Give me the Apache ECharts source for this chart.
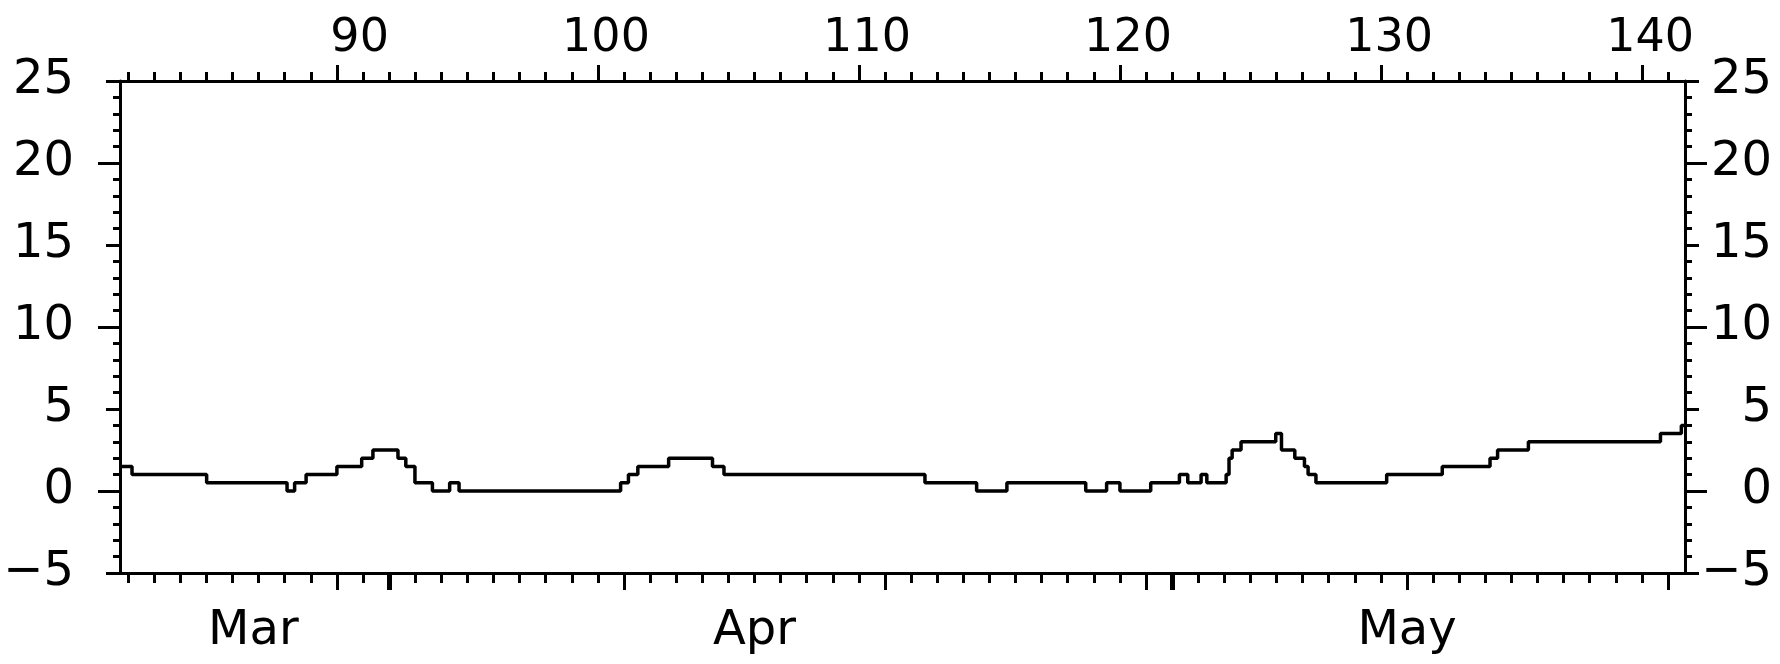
<!DOCTYPE html>
<html>
<head>
<meta charset="utf-8">
<title>Step chart</title>
<script src="https://cdn.jsdelivr.net/npm/echarts@6/dist/echarts.min.js"></script>
<style>
html, body { margin: 0; padding: 0; background: #fff; }
#chart { width: 1780px; height: 664px; }
</style>
</head>
<body>
<div id="chart"></div>
<script>
// day of year where each step starts, and the value held until the next step
var stepDays = [81.69, 82.15, 85.01, 88.09, 88.38, 88.82, 90.0, 90.95, 91.38, 92.34, 92.64, 92.99, 93.66, 94.32, 94.68,
  100.87, 101.17, 101.53, 102.71, 104.39, 104.83, 112.53, 114.51, 115.67, 118.69, 119.49, 120.0, 121.18,
  122.28, 122.6, 123.11, 123.33, 124.07, 124.18, 124.3, 124.64, 125.97, 126.19, 126.7, 127.07, 127.21, 127.51,
  130.22, 132.35, 134.18, 134.47, 135.65, 140.71, 141.51, 141.65];
var stepValues = [1.5, 1.0, 0.5, 0, 0.5, 1.0, 1.5, 2.0, 2.5, 2.0, 1.5, 0.5, 0, 0.5, 0,
  0.5, 1.0, 1.5, 2.0, 1.5, 1.0, 0.5, 0, 0.5, 0, 0.5, 0, 0.5,
  1.0, 0.5, 1.0, 0.5, 1.0, 2.0, 2.5, 3.0, 3.5, 2.5, 2.0, 1.5, 1.0, 0.5,
  1.0, 1.5, 2.0, 2.5, 3.0, 3.5, 4.0, 4.0];

// axis range (day of year, leap year) and tick lists
var dayMin = 81.69, dayMax = 141.65;
var tenDayTicks = [90, 100, 110, 120, 130, 140];
var dateLongTicks = [90, 101, 111, 121, 131, 141];   // Mar 30, Apr 10, 20, 30, May 10, 20
var monthStartTicks = [92, 122];                     // Apr 1, May 1
var monthNames = ['Mar', 'Apr', 'May'];
var monthLabelDays = [86.8, 106, 131];
var yTenTicks = [0, 10, 20];

var dayTicks = [];
for (var d = 82; d <= 141; d++) dayTicks.push(d);

var FONT = 'DejaVu Sans';
var INK = '#000';
var LW = 3;

var lineData = stepDays.map(function (x, i) { return [x, stepValues[i]]; });
var topLabelData = tenDayTicks.map(function (x) { return [x, 25]; });

function xAx(pos, extra) {
    var base = {
        type: 'value', position: pos, min: dayMin, max: dayMax,
        axisLine: { show: false, onZero: false },
        axisTick: { show: false },
        axisLabel: { show: false },
        splitLine: { show: false }
    };
    return Object.assign(base, extra);
}
function yAx(pos, extra) {
    var base = {
        type: 'value', position: pos, min: -5, max: 25,
        axisLine: { show: false, onZero: false },
        axisTick: { show: false },
        axisLabel: { show: false },
        splitLine: { show: false }
    };
    return Object.assign(base, extra);
}
function minusFmt(v) {
    return String(v).replace('-', '\u2212');
}

var myChart = echarts.init(document.getElementById('chart'));
var option = {
    animation: false,
    backgroundColor: '#fff',
    grid: { left: 120, right: 95, top: 81, bottom: 91, containLabel: false, outerBoundsMode: 'none' },
    xAxis: [
        // bottom: frame line, daily ticks, month names
        xAx('bottom', {
            axisLine: { show: true, onZero: false, lineStyle: { color: INK, width: LW } },
            axisTick: { show: true, customValues: dayTicks, length: 10, lineStyle: { color: INK, width: LW } },
            axisLabel: {
                show: true, customValues: monthLabelDays, margin: 35,
                color: INK, fontFamily: FONT, fontSize: 48,
                formatter: function (v) {
                    var i = monthLabelDays.indexOf(v);
                    return i >= 0 ? monthNames[i] : '';
                }
            }
        }),
        xAx('bottom', {
            axisTick: { show: true, customValues: dateLongTicks, length: 17, lineStyle: { color: INK, width: LW } }
        }),
        xAx('bottom', {
            axisTick: { show: true, customValues: monthStartTicks, length: 17, lineStyle: { color: INK, width: 5 } }
        }),
        // top: day of year
        xAx('top', {
            axisLine: { show: true, onZero: false, lineStyle: { color: INK, width: LW } },
            axisTick: { show: true, customValues: dayTicks, length: 9, lineStyle: { color: INK, width: LW } }
        }),
        xAx('top', {
            axisTick: { show: true, customValues: tenDayTicks, length: 16, lineStyle: { color: INK, width: LW } }
        })
    ],
    yAxis: [
        yAx('left', {
            interval: 5,
            axisLine: { show: true, onZero: false, lineStyle: { color: INK, width: LW } },
            axisTick: { show: true, length: 14, lineStyle: { color: INK, width: LW } },
            minorTick: { show: true, splitNumber: 5, length: 7, lineStyle: { color: INK, width: LW } },
            axisLabel: { show: true, margin: 46, align: 'right', color: INK, fontFamily: FONT, fontSize: 48, formatter: minusFmt }
        }),
        yAx('left', {
            axisTick: { show: true, customValues: yTenTicks, length: 22, lineStyle: { color: INK, width: LW } }
        }),
        yAx('right', {
            interval: 5,
            axisLine: { show: true, onZero: false, lineStyle: { color: INK, width: LW } },
            axisTick: { show: true, length: 14, lineStyle: { color: INK, width: LW } },
            minorTick: { show: true, splitNumber: 5, length: 7, lineStyle: { color: INK, width: LW } },
            axisLabel: { show: true, margin: 87, align: 'right', color: INK, fontFamily: FONT, fontSize: 48, formatter: minusFmt }
        }),
        yAx('right', {
            axisTick: { show: true, customValues: yTenTicks, length: 22, lineStyle: { color: INK, width: LW } }
        })
    ],
    series: [
        {
            type: 'line',
            xAxisIndex: 0,
            yAxisIndex: 0,
            step: 'end',
            symbol: 'none',
            data: lineData,
            lineStyle: { color: INK, width: 3.5 },
            silent: true
        },
        {
            // day-of-year numbers above the top axis, right-aligned past each tick
            type: 'scatter',
            xAxisIndex: 0,
            yAxisIndex: 0,
            symbolSize: 0,
            clip: false,
            silent: true,
            data: topLabelData,
            itemStyle: { opacity: 1 },
            label: {
                show: true, position: 'top', distance: 19, align: 'right', offset: [52, 0],
                color: INK, opacity: 1, fontFamily: FONT, fontSize: 46,
                formatter: function (p) { return String(p.value[0]); }
            }
        }
    ]
};
myChart.setOption(option);
</script>
</body>
</html>
